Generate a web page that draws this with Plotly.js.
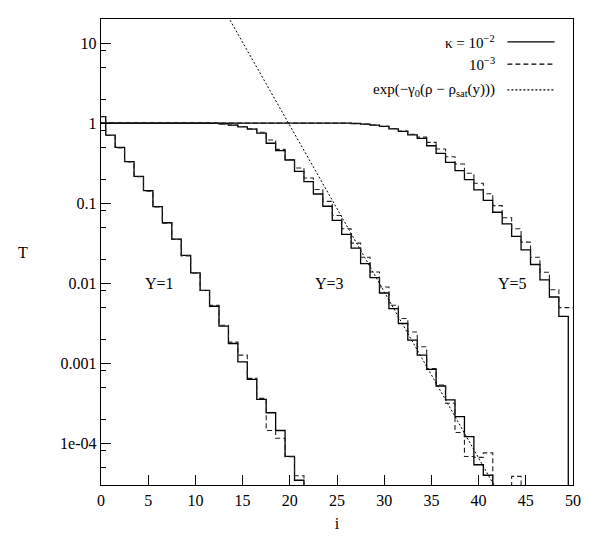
<!DOCTYPE html>
<html>
<head>
<meta charset="utf-8">
<script src="https://cdn.plot.ly/plotly-3.0.1.min.js"></script>
<style>
  body { margin: 0; background: #fff; }
  #chart { width: 603px; height: 543px; }
</style>
</head>
<body>
<div id="chart"></div>
<script>
// bin index i
var bins = [0,1,2,3,4,5,6,7,8,9,10,11,12,13,14,15,16,17,18,19,20,
            21,22,23,24,25,26,27,28,29,30,31,32,33,34,35,36,37,38,39,40,
            41,42,43,44,45,46,47,48,49,50];

// values far below the axis stand for empty bins (the step drops out of the frame)
var OFF = 1e-7;

// Y=1
var y1Solid = [1.208,0.708,0.497,0.330,0.216,0.143,0.0906,0.0568,0.0355,0.0222,0.0134,
               0.00813,0.00514,0.00290,0.00176,0.00104,0.000627,0.000353,0.000240,0.000144,0.0000684,
               0.0000344,OFF];
var y1Dash  = [1.208,0.700,0.490,0.326,0.214,0.141,0.0895,0.0562,0.0352,0.0219,0.0133,
               0.00810,0.00528,0.00298,0.00183,0.00126,0.000646,0.000363,0.000144,0.000115,0.0000676,
               0.0000392,OFF];

// Y=3
var y3Solid = [1,1,1,1,1,1,1,1,1,1,0.999,
               0.998,0.991,0.977,0.944,0.899,0.841,0.750,0.560,0.452,0.346,
               0.249,0.186,0.130,0.0914,0.0607,0.0406,0.0274,0.0175,0.0117,0.00753,
               0.00481,0.00313,0.00194,0.00126,0.000836,0.000518,0.000347,0.000215,0.000121,0.0000537,
               0.0000397,OFF,OFF,OFF,OFF,OFF,OFF,OFF,OFF,OFF];
var y3Dash  = [1,1,1,1,1,1,1,1,1,1,0.999,
               0.998,0.991,0.978,0.946,0.905,0.851,0.767,0.614,0.470,0.351,
               0.275,0.206,0.148,0.105,0.0700,0.0478,0.0316,0.0211,0.0138,0.00895,
               0.00530,0.00361,0.00245,0.00160,0.000859,0.000533,0.000315,0.000136,0.0000681,0.0000665,
               0.0000757,OFF,OFF,0.0000384,OFF,OFF,OFF,OFF,OFF,OFF];

// Y=5
var y5Solid = [1,1,1,1,1,1,1,1,1,1,1,
               1,1,1,1,1,1,1,1,1,1,
               1,1,1,1,1,1,0.989,0.970,0.944,0.908,
               0.849,0.787,0.714,0.646,0.521,0.419,0.323,0.255,0.197,0.146,
               0.108,0.0769,0.0551,0.0383,0.0261,0.0171,0.0110,0.00671,0.00385,OFF];
var y5Dash  = [1,1,1,1,1,1,1,1,1,1,1,
               1,1,1,1,1,1,1,1,1,1,
               1,1,1,1,1,1,0.990,0.972,0.948,0.913,
               0.857,0.797,0.726,0.668,0.574,0.474,0.380,0.308,0.236,0.177,
               0.131,0.0931,0.0655,0.0478,0.0325,0.0211,0.0137,0.00828,0.00494,0.00494];

// exp(-gamma0 (rho - rho_sat(y))): straight on the log axis, ends
var expX = [12, 43];
var expT = [43, 1.55e-5];

var yTickVals = [1e-4, 1e-3, 1e-2, 0.1, 1, 10];
var yTickText = ['1e-04', '0.001', '0.01', '0.1', '1', '10'];
var yMinorVals = [3e-5, 5e-5, 8e-5, 2e-4, 5e-4, 8e-4, 2e-3, 5e-3, 8e-3,
                  0.02, 0.05, 0.08, 0.2, 0.5, 0.8, 2, 5, 8];

var serif = '"Liberation Serif", "DejaVu Serif", serif';

function steps(y, dash) {
  return {
    x: bins.slice(0, y.length),
    y: y,
    type: 'scatter',
    mode: 'lines',
    line: {shape: 'hvh', color: dash ? '#222' : '#000', width: dash ? 1.1 : 1.3, dash: dash || 'solid'},
    hoverinfo: 'x+y',
    showlegend: false
  };
}

var dashed = '5px,3px';
var data = [
  steps(y1Solid), steps(y1Dash, dashed),
  steps(y3Solid), steps(y3Dash, dashed),
  steps(y5Solid), steps(y5Dash, dashed),
  {x: expX, y: expT, type: 'scatter', mode: 'lines', showlegend: false,
   line: {color: '#000', width: 1, dash: '2px,2px'}}
];

// legend drawn gnuplot style: text on the left, sample on the right
var legRows = [
  {txt: '\u03ba = 10<sup>\u22122</sup>', y: 0.951, dash: 'solid'},
  {txt: '10<sup>\u22123</sup>', y: 0.903, dash: dashed},
  {txt: 'exp(\u2212\u03b3<sub>0</sub>(\u03c1 \u2212 \u03c1<sub>sat</sub>(y)))', y: 0.848, dash: '2px,2px'}
];

var annotations = [
  {text: 'Y=1', x: 6.2, y: -2, xref: 'x', yref: 'y', showarrow: false, font: {family: serif, size: 16}},
  {text: 'Y=3', x: 24.2, y: -2, xref: 'x', yref: 'y', showarrow: false, font: {family: serif, size: 16}},
  {text: 'Y=5', x: 43.6, y: -2, xref: 'x', yref: 'y', showarrow: false, font: {family: serif, size: 16}},
  {text: 'T', x: -0.18, y: 0.5, xref: 'paper', yref: 'paper', showarrow: false, font: {family: serif, size: 16}}
];
var shapes = [];
legRows.forEach(function (r) {
  annotations.push({text: r.txt, x: 0.840, y: r.y, xref: 'paper', yref: 'paper',
                    xanchor: 'right', yanchor: 'middle', showarrow: false,
                    font: {family: serif, size: 15}});
  shapes.push({type: 'line', xref: 'paper', yref: 'paper', x0: 0.861, x1: 0.961, y0: r.y, y1: r.y,
               line: {color: '#000', width: 1.2, dash: r.dash}});
});

var layout = {
  width: 603,
  height: 543,
  margin: {l: 101, r: 30, t: 19, b: 58},
  paper_bgcolor: '#fff',
  plot_bgcolor: '#fff',
  font: {family: serif, size: 16, color: '#000'},
  showlegend: false,
  xaxis: {
    range: [0, 50],
    tickvals: [0, 5, 10, 15, 20, 25, 30, 35, 40, 45, 50],
    ticks: 'inside', ticklen: 10, tickwidth: 1, tickcolor: '#000',
    showline: true, linecolor: '#000', linewidth: 1.3, mirror: true,
    showgrid: false, zeroline: false,
    tickfont: {family: serif, size: 16},
    title: {text: 'i', font: {family: serif, size: 16}, standoff: 10}
  },
  yaxis: {
    type: 'log',
    range: [Math.log10(3e-5), Math.log10(20)],
    tickvals: yTickVals, ticktext: yTickText,
    ticks: 'inside', ticklen: 10, tickwidth: 1, tickcolor: '#000',
    minor: {tickvals: yMinorVals, ticks: 'inside', ticklen: 5, tickcolor: '#000', showgrid: false},
    showline: true, linecolor: '#000', linewidth: 1.3, mirror: true,
    showgrid: false, zeroline: false,
    tickfont: {family: serif, size: 16}
  },
  annotations: annotations,
  shapes: shapes
};

Plotly.newPlot('chart', data, layout, {displayModeBar: false, staticPlot: true});
</script>
</body>
</html>
